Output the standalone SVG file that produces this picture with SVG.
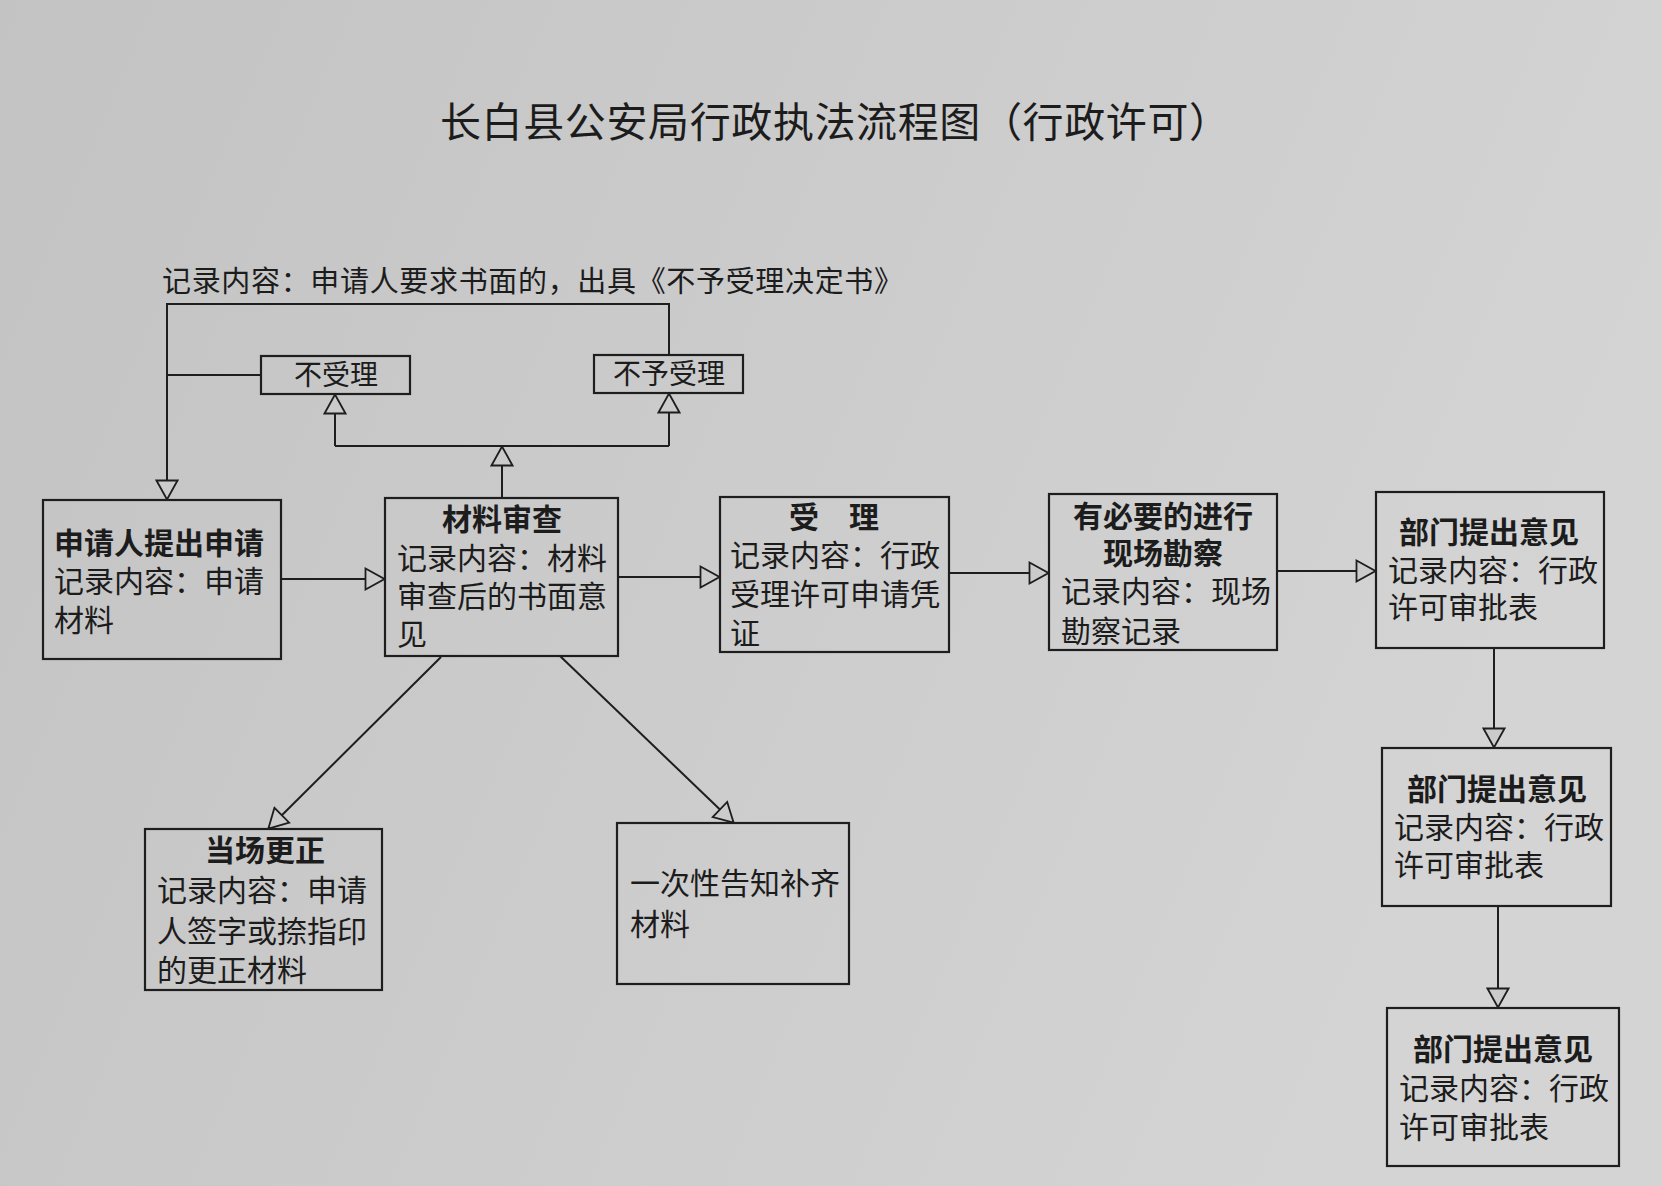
<svg xmlns="http://www.w3.org/2000/svg" width="1662" height="1186" viewBox="0 0 1662 1186">
<defs>
<linearGradient id="bg" x1="0" y1="0" x2="1" y2="0.3">
<stop offset="0" stop-color="#c3c3c3"/>
<stop offset="1" stop-color="#d4d4d4"/>
</linearGradient>
<marker id="arr" markerUnits="userSpaceOnUse" viewBox="0 0 22 24" refX="21" refY="12" markerWidth="22" markerHeight="24" orient="auto">
<path d="M1.5,1.5 L20.5,12 L1.5,22.5 Z" fill="#cbcbcb" stroke="#1e1e1e" stroke-width="1.8"/>
</marker>
</defs>
<style>
.box{fill:none;stroke:#1e1e1e;stroke-width:2.2}
.ln{fill:none;stroke:#1e1e1e;stroke-width:2}
.t{font-family:"Noto Sans CJK SC","Noto Sans CJK TC",sans-serif;font-size:30px;fill:#1c1c1c}
.b{font-weight:700}
.c{text-anchor:middle}
.s{font-size:28px}
</style>
<rect width="1662" height="1186" fill="url(#bg)"/>

<g id="title">
<text class="t" x="440" y="137" style="font-size:41px" textLength="790" lengthAdjust="spacing">长白县公安局行政执法流程图（行政许可）</text>
</g>
<g id="note">
<text class="t" x="162" y="292" style="font-size:29px" textLength="741" lengthAdjust="spacing">记录内容：申请人要求书面的，出具《不予受理决定书》</text>
</g>

<g id="connectors">
<path class="ln" d="M281,579 L385,579" marker-end="url(#arr)"/>
<path class="ln" d="M618,577 L720,577" marker-end="url(#arr)"/>
<path class="ln" d="M949,573 L1049,573" marker-end="url(#arr)"/>
<path class="ln" d="M1277,571 L1376,571" marker-end="url(#arr)"/>
<path class="ln" d="M1494,648 L1494,748" marker-end="url(#arr)"/>
<path class="ln" d="M1498,906 L1498,1008" marker-end="url(#arr)"/>
<path class="ln" d="M441,657 L268,829" marker-end="url(#arr)"/>
<path class="ln" d="M560,656 L734,823" marker-end="url(#arr)"/>
<path class="ln" d="M502,498 L502,446" marker-end="url(#arr)"/>
<path class="ln" d="M335,446 L669,446"/>
<path class="ln" d="M335,446 L335,394" marker-end="url(#arr)"/>
<path class="ln" d="M669,446 L669,393" marker-end="url(#arr)"/>
<path class="ln" d="M669,355 L669,304 L167,304 L167,500" marker-end="url(#arr)"/>
<path class="ln" d="M261,375 L167,375"/>
</g>

<g id="n-apply">
<rect class="box" x="43" y="500" width="238" height="159"/>
<text class="t b" x="54" y="554">申请人提出申请</text>
<text class="t" x="54" y="592">记录内容：申请</text>
<text class="t" x="54" y="631">材料</text>
</g>
<g id="n-review">
<rect class="box" x="385" y="498" width="233" height="158"/>
<text class="t b c" x="502" y="530">材料审查</text>
<text class="t" x="397" y="569">记录内容：材料</text>
<text class="t" x="397" y="607">审查后的书面意</text>
<text class="t" x="397" y="645">见</text>
</g>
<g id="n-accept">
<rect class="box" x="720" y="497" width="229" height="155"/>
<text class="t b c" x="834" y="528">受　理</text>
<text class="t" x="730" y="566">记录内容：行政</text>
<text class="t" x="730" y="605">受理许可申请凭</text>
<text class="t" x="730" y="644">证</text>
</g>
<g id="n-survey">
<rect class="box" x="1049" y="494" width="228" height="156"/>
<text class="t b c" x="1163" y="527">有必要的进行</text>
<text class="t b c" x="1163" y="564">现场勘察</text>
<text class="t" x="1061" y="602">记录内容：现场</text>
<text class="t" x="1061" y="642">勘察记录</text>
</g>
<g id="n-dept1">
<rect class="box" x="1376" y="492" width="228" height="156"/>
<text class="t b c" x="1489" y="543">部门提出意见</text>
<text class="t" x="1388" y="581">记录内容：行政</text>
<text class="t" x="1388" y="618">许可审批表</text>
</g>
<g id="n-dept2">
<rect class="box" x="1382" y="748" width="229" height="158"/>
<text class="t b c" x="1497" y="800">部门提出意见</text>
<text class="t" x="1394" y="838">记录内容：行政</text>
<text class="t" x="1394" y="876">许可审批表</text>
</g>
<g id="n-dept3">
<rect class="box" x="1387" y="1008" width="232" height="158"/>
<text class="t b c" x="1503" y="1060">部门提出意见</text>
<text class="t" x="1399" y="1099">记录内容：行政</text>
<text class="t" x="1399" y="1138">许可审批表</text>
</g>
<g id="n-correct">
<rect class="box" x="145" y="829" width="237" height="161"/>
<text class="t b c" x="265" y="861">当场更正</text>
<text class="t" x="157" y="901">记录内容：申请</text>
<text class="t" x="157" y="942">人签字或捺指印</text>
<text class="t" x="157" y="981">的更正材料</text>
</g>
<g id="n-notify">
<rect class="box" x="617" y="823" width="232" height="161"/>
<text class="t" x="630" y="894">一次性告知补齐</text>
<text class="t" x="630" y="935">材料</text>
</g>
<g id="n-reject1">
<rect class="box" x="261" y="356" width="149" height="38"/>
<text class="t c s" x="336" y="385">不受理</text>
</g>
<g id="n-reject2">
<rect class="box" x="594" y="355" width="149" height="38"/>
<text class="t c s" x="669" y="384">不予受理</text>
</g>
</svg>
